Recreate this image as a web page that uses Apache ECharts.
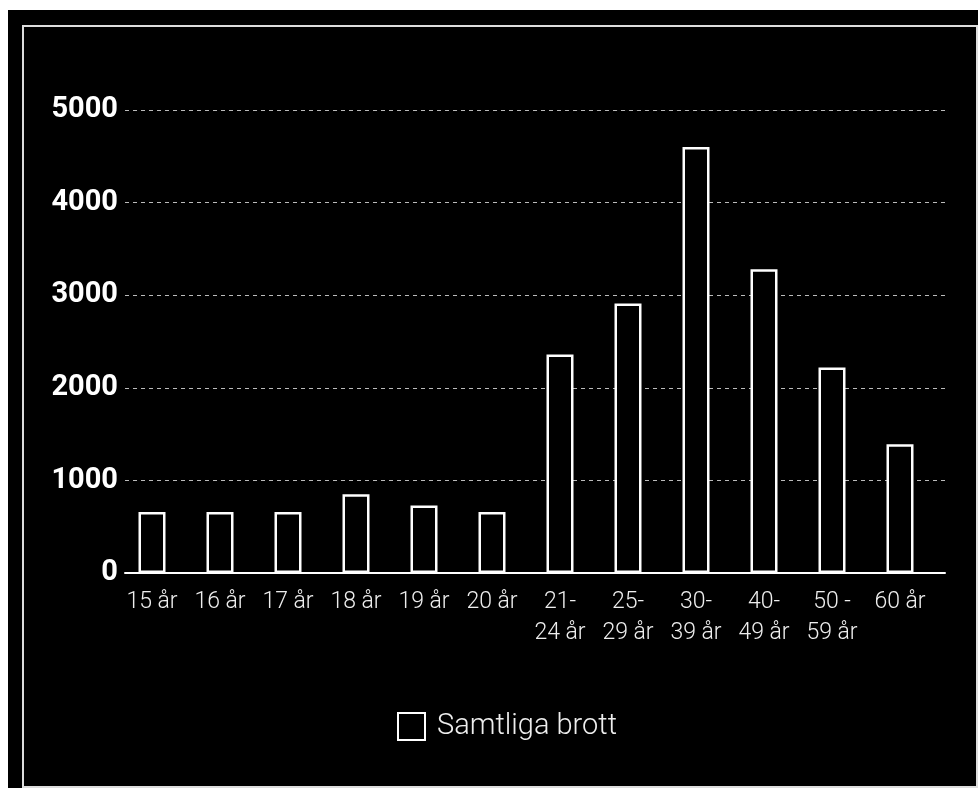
<!DOCTYPE html>
<html>
<head>
<meta charset="utf-8">
<script src="https://cdn.jsdelivr.net/npm/echarts@6/dist/echarts.min.js"></script>
<style>
  html, body { margin: 0; padding: 0; background: #fff; width: 978px; height: 792px; overflow: hidden; }
  #bg { position: absolute; left: 8px; top: 10px; width: 970px; height: 778px; background: #000; }
  #frame { position: absolute; left: 22px; top: 25px; width: 952px; height: 759px; border: 2px solid #ddd; }
  #chart { position: absolute; left: 0; top: 0; width: 978px; height: 792px; }
</style>
</head>
<body>
<div id="bg"></div>
<div id="frame"></div>
<div id="chart"></div>
<script>
const categories = ['15 år', '16 år', '17 år', '18 år', '19 år', '20 år', '21-\n24 år', '25-\n29 år', '30-\n39 år', '40-\n49 år', '50 -\n59 år', '60 år'];
const values = [660, 660, 660, 850, 730, 660, 2360, 2910, 4600, 3280, 2220, 1390];
const seriesName = 'Samtliga brott';
const yMin = 0, yMax = 5000, yStep = 1000;

const chart = echarts.init(document.getElementById('chart'), null, { renderer: 'canvas' });
chart.setOption({
  backgroundColor: 'transparent',
  animation: false,
  grid: [
    { left: 125, right: 33, top: 110, bottom: 219 },
    { left: 118, width: 816, top: 110, bottom: 219 }
  ],
  xAxis: [
    {
      gridIndex: 0, type: 'category', data: categories,
      axisLine: { show: true, lineStyle: { color: '#fff', width: 2 } },
      axisTick: { show: false }, axisLabel: { show: false }
    },
    {
      gridIndex: 1, type: 'category', data: categories,
      axisLine: { show: false }, axisTick: { show: false },
      axisLabel: {
        interval: 0, color: '#eee', fontFamily: 'Roboto', fontWeight: 300,
        fontSize: 23, lineHeight: 31, margin: 14
      }
    }
  ],
  yAxis: [
    {
      gridIndex: 0, type: 'value', min: yMin, max: yMax, interval: yStep,
      axisLine: { show: false }, axisTick: { show: false },
      axisLabel: { color: '#fff', fontFamily: 'Roboto', fontWeight: 'bold', fontSize: 29, margin: 7,
        formatter: v => String(v) },
      splitLine: { show: true, lineStyle: { color: '#bbb', width: 1, type: [4, 4] } }
    },
    {
      gridIndex: 1, type: 'value', min: yMin, max: yMax, interval: yStep,
      axisLine: { show: false }, axisTick: { show: false },
      axisLabel: { show: false }, splitLine: { show: false }
    }
  ],
  legend: {
    left: 392, top: 707, itemWidth: 27, itemHeight: 27, icon: 'rect',
    data: [seriesName],
    itemStyle: { color: '#000', borderColor: '#fff', borderWidth: 2 },
    textStyle: { color: '#eee', fontFamily: 'Roboto', fontWeight: 300, fontSize: 29, padding: [0, 0, 0, 7] }
  },
  series: [{
    name: seriesName, type: 'bar', xAxisIndex: 1, yAxisIndex: 1,
    data: values, barWidth: 27,
    itemStyle: { color: '#000', borderColor: '#fff', borderWidth: 2.5 }
  }]
});
</script>
</body>
</html>
